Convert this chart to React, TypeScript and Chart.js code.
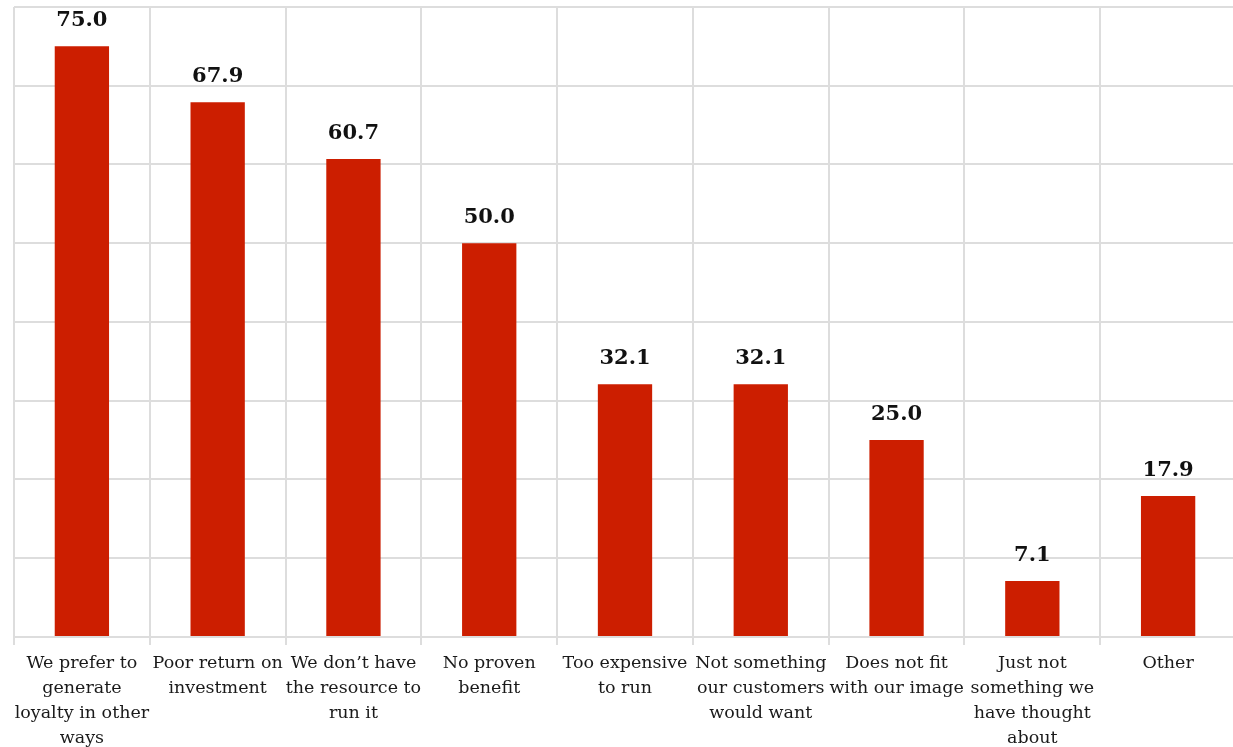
import React, { useEffect, useRef } from "react";
import { Chart, registerables } from "chart.js";

Chart.register(...registerables);

const categories: string[][] = [
  ["We prefer to", "generate", "loyalty in other", "ways"],
  ["Poor return on", "investment"],
  ["We don\u2019t have", "the resource to", "run it"],
  ["No proven", "benefit"],
  ["Too expensive", "to run"],
  ["Not something", "our customers", "would want"],
  ["Does not fit", "with our image"],
  ["Just not", "something we", "have thought", "about"],
  ["Other"],
];
const values: number[] = [75.0, 67.9, 60.7, 50.0, 32.1, 32.1, 25.0, 7.1, 17.9];
const yMax = 80;
const yStep = 10;

const valueLabels = {
  id: "valueLabels",
  afterDatasetsDraw(chart: any) {
    const ctx = chart.ctx;
    const meta = chart.getDatasetMeta(0);
    ctx.save();
    ctx.font = "bold 21px 'DejaVu Serif', serif";
    ctx.fillStyle = "#111";
    ctx.textAlign = "center";
    ctx.textBaseline = "alphabetic";
    meta.data.forEach((bar: any, i: number) => {
      ctx.fillText(values[i].toFixed(1), bar.x, bar.y - 20);
    });
    ctx.restore();
  },
};

export default function App() {
  const ref = useRef<HTMLCanvasElement | null>(null);
  useEffect(() => {
    document.body.style.margin = "0";
    document.body.style.overflow = "hidden";
    const chart = new Chart(ref.current!, {
      type: "bar",
      data: {
        labels: categories,
        datasets: [
          {
            data: values,
            backgroundColor: "#cc1e00",
            barPercentage: 0.4,
            categoryPercentage: 1,
          },
        ],
      },
      options: {
        animation: false,
        responsive: false,
        layout: { padding: { left: 14, top: 7, right: 0, bottom: 0 } },
        plugins: { legend: { display: false }, tooltip: { enabled: false } },
        scales: {
          x: {
            grid: { color: "#dddddd", lineWidth: 2, tickLength: 8, offset: true },
            border: { color: "#dddddd", width: 2 },
            ticks: {
              color: "#1a1a1a",
              font: { family: "'DejaVu Serif', serif", size: 17.5, lineHeight: 1.43 },
              padding: 6,
              maxRotation: 0,
              autoSkip: false,
            },
          },
          y: {
            min: 0,
            max: yMax,
            ticks: { stepSize: yStep, display: false },
            grid: { color: "#dddddd", lineWidth: 2, drawTicks: false },
            border: { display: false },
          },
        },
      },
      plugins: [valueLabels],
    });
    return () => chart.destroy();
  }, []);
  return (
    <div style={{ position: "absolute", left: 0, top: 0 }}>
      <canvas ref={ref} width={1236} height={757} style={{ width: 1236, height: 757 }} />
    </div>
  );
}
